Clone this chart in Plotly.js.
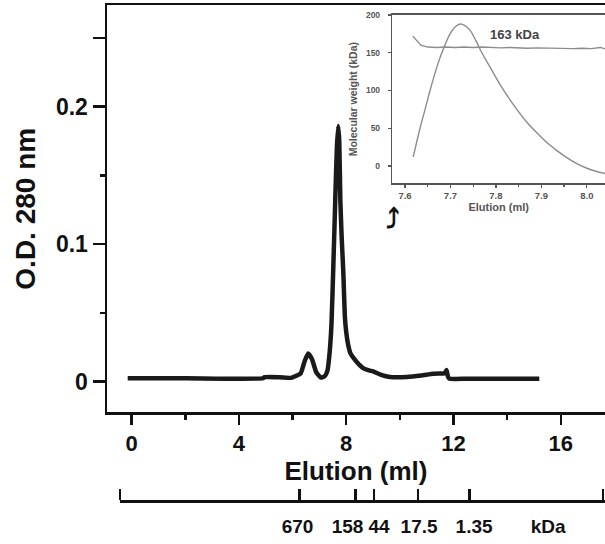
<!DOCTYPE html>
<html>
<head>
<meta charset="utf-8">
<script src="https://cdn.plot.ly/plotly-3.0.1.min.js"></script>
<style>html,body{margin:0;padding:0;background:#fff;}#chart{width:605px;height:544px;}</style>
</head>
<body>
<div id="chart"></div>
<script>
// Main chromatogram (elution volume in ml, O.D. 280 nm)
const elutionMl = [-0.15, 2.0, 4.9, 4.95, 5.5, 5.95, 6.1, 6.3, 6.45, 6.58, 6.72, 6.88, 7.05, 7.2, 7.3, 7.38, 7.45, 7.52, 7.59, 7.65, 7.70, 7.74, 7.78, 7.83, 7.89, 7.95, 8.0, 8.07, 8.15, 8.32, 8.5, 8.63, 8.85, 9.0, 9.3, 9.63, 10.25, 10.8, 11.25, 11.6, 11.68, 11.74, 11.79, 11.84, 12.5, 13.5, 15.2];
const od280 = [0.0025, 0.0025, 0.0025, 0.0033, 0.0033, 0.0028, 0.004, 0.006, 0.015, 0.0205, 0.0165, 0.007, 0.003, 0.004, 0.008, 0.021, 0.042, 0.085, 0.132, 0.17, 0.186, 0.175, 0.132, 0.105, 0.08, 0.047, 0.036, 0.027, 0.021, 0.016, 0.012, 0.0099, 0.0082, 0.0075, 0.005, 0.0034, 0.0034, 0.0045, 0.0058, 0.006, 0.0062, 0.0085, 0.004, 0.0022, 0.0022, 0.0022, 0.0022];

// Inset: elution profile (scaled) and molecular weight (kDa)
const insetElution = [7.618, 7.633, 7.645, 7.655, 7.668, 7.681, 7.7, 7.71, 7.721, 7.732, 7.744, 7.756, 7.769, 7.79, 7.813, 7.84, 7.868, 7.89, 7.912, 7.935, 7.956, 7.978, 8.0, 8.02, 8.04];
const insetProfile = [12, 50, 77, 100, 127, 150, 176, 184, 188, 186, 179, 166, 150, 128, 104, 80, 58, 44, 31, 20, 11, 3, -3, -7, -10];
const mwElution = [7.617, 7.625, 7.635, 7.65, 7.67, 7.69, 7.71, 7.73, 7.75, 7.77, 7.79, 7.81, 7.83, 7.85, 7.87, 7.89, 7.91, 7.93, 7.95, 7.97, 7.99, 8.01, 8.03, 8.04];
const mwKDa = [172, 166, 160, 157.5, 157, 157.5, 157, 157.5, 157, 157.5, 157, 156.5, 157, 156.5, 156, 156.5, 156, 155.5, 156, 155.5, 156, 155.5, 157, 155];

// Calibration scale (marker elution volumes and their molecular weights)
const markerVolumes = [-0.436, 6.255, 8.34, 9.045, 10.67, 12.6, 17.58];
const markerLabelPos = [6.184, 8.049, 9.224, 10.716, 12.767, 15.527];
const markerLabels = ['670', '158', '44', '17.5', '1.35', 'kDa'];

// Axis ticks
const xTicks = [0, 4, 8, 12, 16];
const yTicks = [0, 0.1, 0.2, 0.25];
const yTickText = ['0', '0.1', '0.2', ''];
const yMinorTicks = [0.05, 0.15];
const insetXTicks = [7.6, 7.7, 7.8, 7.9, 8.0];
const insetXTickText = ['7.6', '7.7', '7.8', '7.9', '8.0'];
const insetYTicks = [0, 50, 100, 150, 200];

const F = 'Liberation Sans, Arial, sans-serif';
const grey = '#555555';

const traces = [
  {x: elutionMl, y: od280, xaxis: 'x', yaxis: 'y', mode: 'lines',
   line: {color: '#1a1a1a', width: 4.5, shape: 'spline', smoothing: 0.5}, hoverinfo: 'skip'},
  {x: insetElution, y: insetProfile, xaxis: 'x2', yaxis: 'y2', mode: 'lines',
   line: {color: '#8c8c8c', width: 1.4, shape: 'spline', smoothing: 0.8}, hoverinfo: 'skip'},
  {x: mwElution, y: mwKDa, xaxis: 'x2', yaxis: 'y2', mode: 'lines',
   line: {color: '#8c8c8c', width: 1.4}, hoverinfo: 'skip'},
  {x: markerVolumes, y: markerVolumes.map(() => null), xaxis: 'x3', yaxis: 'y', mode: 'markers', hoverinfo: 'skip'},
  {x: markerLabelPos, y: markerLabelPos.map(() => null), xaxis: 'x4', yaxis: 'y', mode: 'markers', hoverinfo: 'skip'}
];

const layout = {
  width: 605, height: 544,
  margin: {l: 107, r: 0, t: 5, b: 40},
  paper_bgcolor: '#fff', plot_bgcolor: 'rgba(0,0,0,0)',
  showlegend: false,
  xaxis: {
    domain: [0, 1], range: [-0.922, 17.65], anchor: 'y',
    showline: true, linewidth: 2.5, linecolor: '#111', mirror: true,
    showgrid: false, zeroline: false,
    tickvals: xTicks, ticks: 'outside', ticklen: 10, tickwidth: 2.5, tickcolor: '#111',
    minor: {dtick: 2, tick0: 0, ticks: 'outside', ticklen: 5, tickwidth: 2.5, tickcolor: '#111', showgrid: false},
    tickfont: {family: F, size: 22, color: '#111', weight: 'bold'},
    title: {text: 'Elution (ml)', font: {family: F, size: 26, color: '#111', weight: 'bold'}, standoff: 0}
  },
  yaxis: {
    domain: [0.1834, 1], range: [-0.0224, 0.274], anchor: 'x',
    showline: true, linewidth: 2.5, linecolor: '#111', mirror: false,
    showgrid: false, zeroline: false,
    tickvals: yTicks, ticktext: yTickText, ticks: 'outside', ticklen: 12, tickwidth: 2.5, tickcolor: '#111',
    minor: {tickvals: yMinorTicks, ticks: 'outside', ticklen: 5, tickwidth: 2.5, tickcolor: '#111', showgrid: false},
    tickfont: {family: F, size: 23, color: '#111', weight: 'bold'},
    title: {text: 'O.D. 280 nm', font: {family: F, size: 28, color: '#111', weight: 'bold'}, standoff: 12}
  },
  xaxis2: {
    domain: [0.5729, 1], range: [7.572, 8.04], anchor: 'y2',
    showline: true, linewidth: 1.5, linecolor: grey, mirror: true,
    showgrid: false, zeroline: false,
    tickvals: insetXTicks, ticktext: insetXTickText, ticks: 'outside', ticklen: 3, tickwidth: 1.2, tickcolor: grey,
    minor: {dtick: 0.05, tick0: 7.55, ticks: 'outside', ticklen: 2, tickwidth: 1.2, tickcolor: grey, showgrid: false},
    tickfont: {family: F, size: 9.5, color: grey, weight: 'bold'},
    title: {text: 'Elution (ml)', font: {family: F, size: 11, color: grey, weight: 'bold'}, standoff: 3}
  },
  yaxis2: {
    domain: [0.6427, 0.98], range: [-22.9, 200], anchor: 'x2',
    showline: true, linewidth: 1.5, linecolor: grey, mirror: false,
    showgrid: false, zeroline: false,
    tickvals: insetYTicks, ticks: 'outside', ticklen: 3, tickwidth: 1.2, tickcolor: grey,
    ticklabelstandoff: 6,
    tickfont: {family: F, size: 8.5, color: grey, weight: 'bold'},
    title: {text: 'Molecular weight (kDa)', font: {family: F, size: 10.5, color: grey, weight: 'bold'}, standoff: 6}
  },
  xaxis3: {
    domain: [0.0261, 1], range: [-0.436, 17.65], anchor: 'free', position: 0.006, side: 'top',
    showline: true, linewidth: 2.5, linecolor: '#111',
    showgrid: false, zeroline: false,
    tickvals: markerVolumes, ticks: 'outside', ticklen: 11, tickwidth: 2.5, tickcolor: '#111',
    showticklabels: false
  },
  xaxis4: {
    domain: [0, 1], range: [-0.922, 17.65], anchor: 'free', position: 0.006, side: 'bottom',
    showline: false, showgrid: false, zeroline: false, ticks: '',
    tickvals: markerLabelPos, ticktext: markerLabels, tickangle: 0,
    ticklabelstandoff: 12,
    tickfont: {family: F, size: 19, color: '#111', weight: 'bold'}
  },
  annotations: [
    {xref: 'x2', yref: 'y2', x: 7.842, y: 174, text: '163 kDa', showarrow: false,
     font: {family: F, size: 13, color: '#444', weight: 'bold'}},
    {xref: 'paper', yref: 'paper', x: 0.574, y: 0.572, text: '\u2934', showarrow: false,
     font: {family: 'DejaVu Sans', size: 27, color: '#111', weight: 'bold'}}
  ]
};

Plotly.newPlot('chart', traces, layout, {displayModeBar: false, staticPlot: true});
</script>
</body>
</html>
